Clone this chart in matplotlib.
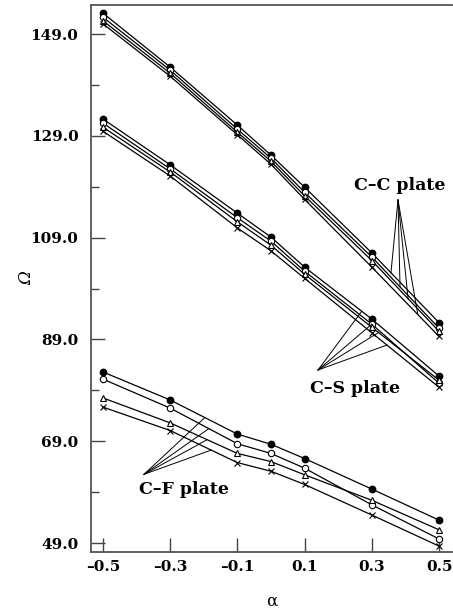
import numpy as np
import matplotlib
matplotlib.use("Agg")
import matplotlib.pyplot as plt

plt.rcParams['font.family'] = ['DejaVu Serif']

alpha = [-0.5, -0.3, -0.1, 0.0, 0.1, 0.3, 0.5]

# C-C plate
cc_filled = [153.1, 142.5, 131.1, 125.2, 118.9, 106.0, 92.3]
cc_open = [152.3, 141.9, 130.3, 124.6, 117.9, 105.2, 91.2]
cc_tri = [151.6, 141.3, 129.7, 124.0, 117.2, 104.5, 90.6]
cc_x = [151.0, 140.7, 129.2, 123.4, 116.5, 103.2, 89.6]

# C-S plate
cs_filled = [132.3, 123.3, 113.8, 109.1, 103.2, 93.0, 81.8]
cs_open = [131.5, 122.5, 112.9, 108.3, 102.4, 92.0, 80.4]
cs_tri = [130.7, 121.9, 112.1, 107.5, 101.8, 91.4, 81.0]
cs_x = [129.9, 121.1, 110.9, 106.4, 101.0, 90.3, 79.6]

# C-F plate
cf_filled = [82.6, 77.1, 70.4, 68.4, 65.6, 59.6, 53.5]
cf_open = [81.2, 75.5, 68.5, 66.6, 63.7, 56.5, 49.8]
cf_tri = [77.5, 72.6, 66.6, 65.0, 62.4, 57.4, 51.6]
cf_x = [75.7, 71.1, 64.8, 63.1, 60.5, 54.5, 48.4]

yticks = [49.0, 69.0, 89.0, 109.0, 129.0, 149.0]
xticks = [-0.5, -0.3, -0.1, 0.1, 0.3, 0.5]

fig = plt.figure(figsize=(4.53, 6.12), dpi=100)
ax = fig.add_axes([0.2009, 0.098, 0.7969, 0.8938])

groups = [(cc_filled, cc_open, cc_tri, cc_x),
          (cs_filled, cs_open, cs_tri, cs_x),
          (cf_filled, cf_open, cf_tri, cf_x)]
for f, o, t, x in groups:
    ax.plot(alpha, f, '-', color='black', lw=0.9, marker='o', ms=4.6, mfc='black', mec='black')
    ax.plot(alpha, o, '-', color='black', lw=0.9, marker='o', ms=4.6, mfc='white', mec='black', mew=0.8)
    ax.plot(alpha, t, '-', color='black', lw=0.9, marker='^', ms=4.6, mfc='white', mec='black', mew=0.8)
    ax.plot(alpha, x, '-', color='black', lw=0.9, marker='x', ms=4.2, mec='black', mew=0.8)

# annotation fans
def fan(apex, xs, series):
    for xv, s in zip(xs, series):
        yv = np.interp(xv, alpha, s)
        ax.plot([apex[0], xv], [apex[1], yv], color='black', lw=0.7)

fan((0.378, 116.4), [0.357, 0.384, 0.408, 0.437], [cc_filled, cc_open, cc_tri, cc_x])
ax.text(0.382, 119.2, 'C–C plate', ha='center', va='center', fontsize=12.5, fontweight='bold')

fan((0.14, 83.0), [0.27, 0.30, 0.32, 0.345], [cs_filled, cs_open, cs_tri, cs_x])
ax.text(0.25, 79.3, 'C–S plate', ha='center', va='center', fontsize=12.5, fontweight='bold')

fan((-0.378, 62.5), [-0.197, -0.185, -0.19, -0.178], [cf_filled, cf_open, cf_tri, cf_x])
ax.text(-0.26, 59.5, 'C–F plate', ha='center', va='center', fontsize=12.5, fontweight='bold')

ax.set_xlim(-0.5357, 0.5387)
ax.set_ylim(47.23, 154.70)
ax.set_xticks(xticks)
ax.set_xticklabels(['–0.5', '–0.3', '–0.1', '0.1', '0.3', '0.5'])
ax.set_yticks(yticks)
ax.set_yticklabels(['%.1f' % v for v in yticks])
ax.set_yticks([59.0, 79.0, 99.0, 119.0, 139.0], minor=True)
ax.tick_params(axis='both', which='major', direction='in', length=10, width=1.0,
               color='#444444', labelsize=11)
ax.tick_params(axis='y', which='major', pad=9)
ax.tick_params(axis='x', which='major', pad=6)
ax.tick_params(axis='y', which='minor', direction='in', length=6, width=1.0, color='#444444')
for lab in ax.get_xticklabels() + ax.get_yticklabels():
    lab.set_fontweight('bold')

ax.spines['right'].set_visible(False)
for s in ['left', 'bottom', 'top']:
    ax.spines[s].set_color('#555555')
    ax.spines[s].set_linewidth(1.3)

ax.set_xlabel('α', fontsize=12, labelpad=13)
ax.set_ylabel('Ω', fontsize=12, fontstyle='italic', labelpad=-3)

fig.savefig('out.png', dpi=100)
